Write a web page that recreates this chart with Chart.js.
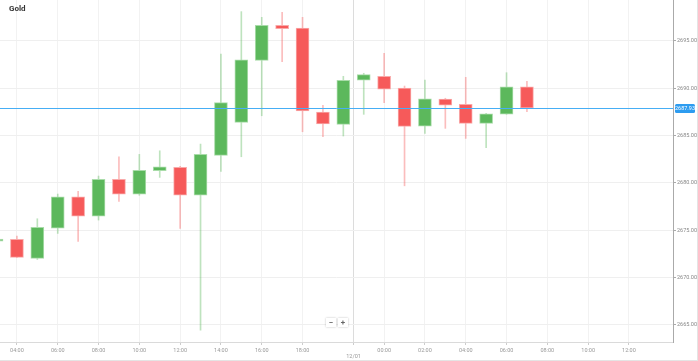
<!DOCTYPE html>
<html>
<head>
<meta charset="utf-8">
<script src="https://cdn.jsdelivr.net/npm/chart.js@4"></script>
<style>
  body { margin: 0; background: #fff; font-family: Roboto, sans-serif; }
  #wrap { position: relative; width: 697px; height: 360px; border-right: 1px solid #e4e4e4; border-bottom: 1px solid #e4e4e4; }
  #title { position: absolute; left: 9px; top: 4px; font: bold 8px Roboto, sans-serif; color: #333; }
  .zbtn { position: absolute; top: 318px; width: 10px; height: 9px; background: #fff; box-shadow: 0 0 2px rgba(0,0,0,0.25);
          font: bold 8px Roboto, sans-serif; color: #666; text-align: center; line-height: 9px; }
</style>
</head>
<body>
<div id="wrap">
  <canvas id="chart1"></canvas>
  <div id="title">Gold</div>
  <div class="zbtn" style="left:326px">−</div>
  <div class="zbtn" style="left:338px">+</div>
</div>
<script>
// hourly slots (session gap 21:00-22:00 skipped), last ones are empty future slots
var slots = ['03:00','04:00','05:00','06:00','07:00','08:00','09:00','10:00','11:00','12:00','13:00','14:00',
             '15:00','16:00','17:00','18:00','19:00','20:00','23:00','00:00','01:00','02:00','03:00','04:00',
             '05:00','06:00','07:00','08:00','09:00','10:00','11:00','12:00','13:00','14:00'];
var opens  = [2673.85,2674.04,2672.03,2675.23,2678.54,2676.50,2680.38,2678.83,2681.29,2681.65,2678.72,2682.92,
              2686.41,2692.96,2696.66,2696.37,2687.49,2686.19,2690.85,2691.27,2690.03,2686.01,2688.87,2688.31,
              2686.30,2687.28,2690.17];
var highs  = [2674.10,2674.40,2676.22,2678.83,2679.11,2680.73,2682.77,2683.02,2683.40,2681.75,2684.11,2693.63,
              2698.10,2697.50,2698.03,2697.50,2688.20,2691.27,2691.59,2693.70,2690.24,2690.88,2688.95,2691.16,
              2687.35,2691.65,2690.74];
var lows   = [2673.70,2672.10,2671.92,2674.67,2673.83,2676.08,2678.05,2678.70,2680.59,2675.20,2664.45,2681.23,
              2682.77,2687.10,2692.81,2685.41,2684.88,2684.96,2687.25,2688.48,2679.70,2685.24,2685.77,2684.71,
              2683.72,2687.25,2687.53];
var closes = [2674.00,2672.14,2675.31,2678.54,2676.50,2680.38,2678.83,2681.33,2681.71,2678.72,2683.02,2688.48,
              2693.02,2696.66,2696.30,2687.60,2686.23,2690.85,2691.44,2689.90,2685.98,2688.90,2688.23,2686.30,
              2687.31,2690.17,2687.93];
var priceTicks = [2665, 2670, 2675, 2680, 2685, 2690, 2695];
var dayLabel = '12/01';
var lastPrice = closes[closes.length - 1];

var up = function (i) { return closes[i] >= opens[i]; };

// x tick positions: even hours, plus the day separator between 20:00 and 23:00
var dayPos = slots.indexOf('23:00') - 0.5;
var xTicks = [];
slots.forEach(function (s, i) {
  if (i > slots.length - 3) return;          // nothing labelled at the right edge
  if (Math.abs(i - dayPos) < 1) return;       // 20:00 hidden by the date marker
  if (parseInt(s, 10) % 2 === 0) xTicks.push(i);
});
xTicks.push(dayPos);
xTicks.sort(function (a, b) { return a - b; });

var priceLine = {
  id: 'priceLine',
  afterDatasetsDraw: function (chart) {
    var c = chart.ctx, a = chart.chartArea;
    var y = Math.round(chart.scales.y.getPixelForValue(lastPrice)) + 0.5;
    c.save();
    c.strokeStyle = '#46aef5';
    c.lineWidth = 1;
    c.beginPath(); c.moveTo(a.left, y); c.lineTo(a.right, y); c.stroke();
    c.fillStyle = '#2d9cf0';
    c.beginPath();
    c.roundRect(a.right + 2, y - 4.5, 20, 9, 1.5);
    c.fill();
    c.fillStyle = '#fff';
    c.font = '5.5px Roboto';
    c.textAlign = 'center';
    c.textBaseline = 'middle';
    c.fillText(lastPrice.toFixed(2), a.right + 12, y + 0.5);
    c.restore();
  }
};

var ctx = document.getElementById('chart1').getContext('2d');
var chart = new Chart(ctx, {
  type: 'bar',
  data: {
    datasets: [{
      // candle bodies
      order: 0,
      data: opens.map(function (o, i) { return { x: i, y: [o, closes[i]] }; }),
      backgroundColor: opens.map(function (o, i) { return up(i) ? '#5cb85c' : '#f65a5a'; }),
      borderColor: opens.map(function (o, i) { return up(i) ? '#a9dca9' : '#f9a9a9'; }),
      borderWidth: 1,
      borderSkipped: false,
      barThickness: 13,
      minBarLength: 2,
      grouped: false
    }, {
      // wicks
      order: 1,
      data: highs.map(function (h, i) { return { x: i, y: [lows[i], h] }; }),
      backgroundColor: opens.map(function (o, i) { return up(i) ? 'rgba(92,184,92,0.4)' : 'rgba(246,90,90,0.4)'; }),
      barThickness: 1,
      grouped: false
    }]
  },
  options: {
    responsive: true,
    maintainAspectRatio: false,
    animation: false,
    layout: { padding: 0 },
    plugins: { legend: { display: false }, tooltip: { enabled: false } },
    scales: {
      x: {
        type: 'linear',
        offset: false,
        min: 0.17,
        max: 33.16,
        afterBuildTicks: function (scale) {
          scale.ticks = xTicks.map(function (v) { return { value: v }; });
        },
        afterFit: function (scale) {
          scale.height = 18;
          scale.paddingLeft = 0;
          scale.paddingRight = 0;
        },
        ticks: {
          autoSkip: false,
          maxRotation: 0,
          padding: 2,
          color: '#999',
          font: { family: 'Roboto', size: 5.5 },
          callback: function (v) { return v === dayPos ? ['', dayLabel] : slots[v]; }
        },
        grid: {
          offset: false,
          color: function (c) { return c.tick && c.tick.value === dayPos ? '#dcdcdc' : '#f2f2f2'; },
          tickColor: '#ccc',
          tickLength: 3
        },
        border: { color: '#dadada' }
      },
      y: {
        position: 'right',
        min: 2663.2,
        max: 2699.33,
        afterBuildTicks: function (scale) {
          scale.ticks = priceTicks.map(function (v) { return { value: v }; });
        },
        afterFit: function (scale) {
          scale.width = 24;
          scale.paddingTop = 0;
          scale.paddingBottom = 0;
        },
        ticks: {
          padding: 1,
          color: '#888',
          font: { family: 'Roboto', size: 5.5 },
          callback: function (v) { return v.toFixed(2); }
        },
        grid: { color: '#efefef', tickColor: '#aaa', tickLength: 3 },
        border: { color: '#aaa' }
      }
    }
  },
  plugins: [priceLine]
});
</script>
</body>
</html>
